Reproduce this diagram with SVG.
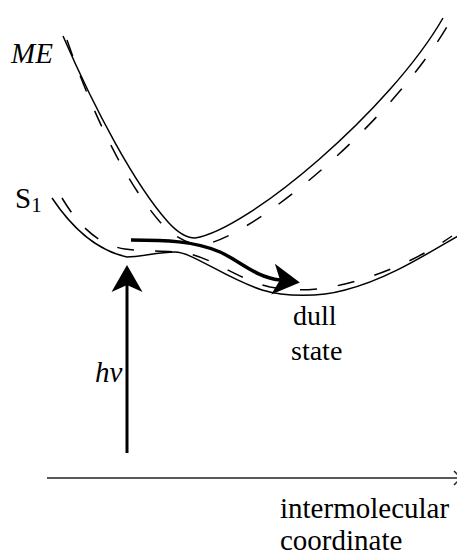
<svg xmlns="http://www.w3.org/2000/svg" width="457" height="558" viewBox="0 0 457 558">
<style>
.solid{fill:none;stroke:#000;stroke-width:1.5}
.dash{fill:none;stroke:#000;stroke-width:1.5;stroke-dasharray:17 21}
.txt{font-family:'Liberation Serif','DejaVu Serif',serif;fill:#000}
.it{font-style:italic}
.heavy{fill:none;stroke:#000;stroke-width:3.5}
</style>
<defs>
<marker id="head" markerUnits="userSpaceOnUse" markerWidth="40" markerHeight="40" refX="7" refY="0" orient="auto" overflow="visible" viewBox="-5 -20 40 40">
<path d="M0,-15.5 L27,0 L0,15.5 L7,0 Z" fill="#000"/>
</marker>
</defs>
<rect width="457" height="558" fill="#fff"/>
<g id="ME">
<path class="solid" d="M63,36 C95,110 135,185 168,222 C178,233 186,238 195,238 C248,230 390,110 443,18"/>
<path class="dash" d="M67,40 C92,112 124,180 160,222 C175,238 190,245 202,245 C255,237 398,116 452,18"/>
<text class="txt it" font-family="Liberation Serif, serif" x="11" y="63" font-size="29">ME</text>
</g>
<g id="S1">
<path class="solid" d="M52,198 C70,225 95,250 127,257 C140,257 158,252 175,252 C192,252 225,278 262,290 C285,297 320,297 345,290 C385,280 420,258 458,236"/>
<path class="dash" d="M62,198 C78,225 98,245 125,249 C145,252 170,250 190,254 C215,260 240,280 270,287 C295,292 320,290 345,284 C385,274 420,258 452,236"/>
<text class="txt" font-family="Liberation Serif, serif" x="15" y="208" font-size="29">S<tspan font-size="21" dy="4">1</tspan></text>
</g>
<g id="dull-state">
<text class="txt" font-family="Liberation Serif, serif" x="293" y="325" font-size="28">dull</text>
<text class="txt" font-family="Liberation Serif, serif" x="291" y="360" font-size="28">state</text>
</g>
<g id="axis">
<line x1="47" y1="478" x2="460" y2="478" stroke="#222" stroke-width="1.5"/>
<polyline points="454,471 461,478 454,485" fill="none" stroke="#222" stroke-width="1.5"/>
<text class="txt" font-family="Liberation Serif, serif" x="280" y="518" font-size="29">intermolecular</text>
<text class="txt" font-family="Liberation Serif, serif" x="280" y="550" font-size="29">coordinate</text>
</g>
<g id="connectors">
<path class="heavy" d="M131,240 C165,240 195,241 220,252 C240,261 255,277 280,280" marker-end="url(#head)"/>
<line x1="127" y1="453" x2="127" y2="285" stroke="#000" stroke-width="3" marker-end="url(#head)"/>
<text class="txt it" font-family="Liberation Serif, serif" x="95" y="382" font-size="29">hν</text>
</g>
</svg>
